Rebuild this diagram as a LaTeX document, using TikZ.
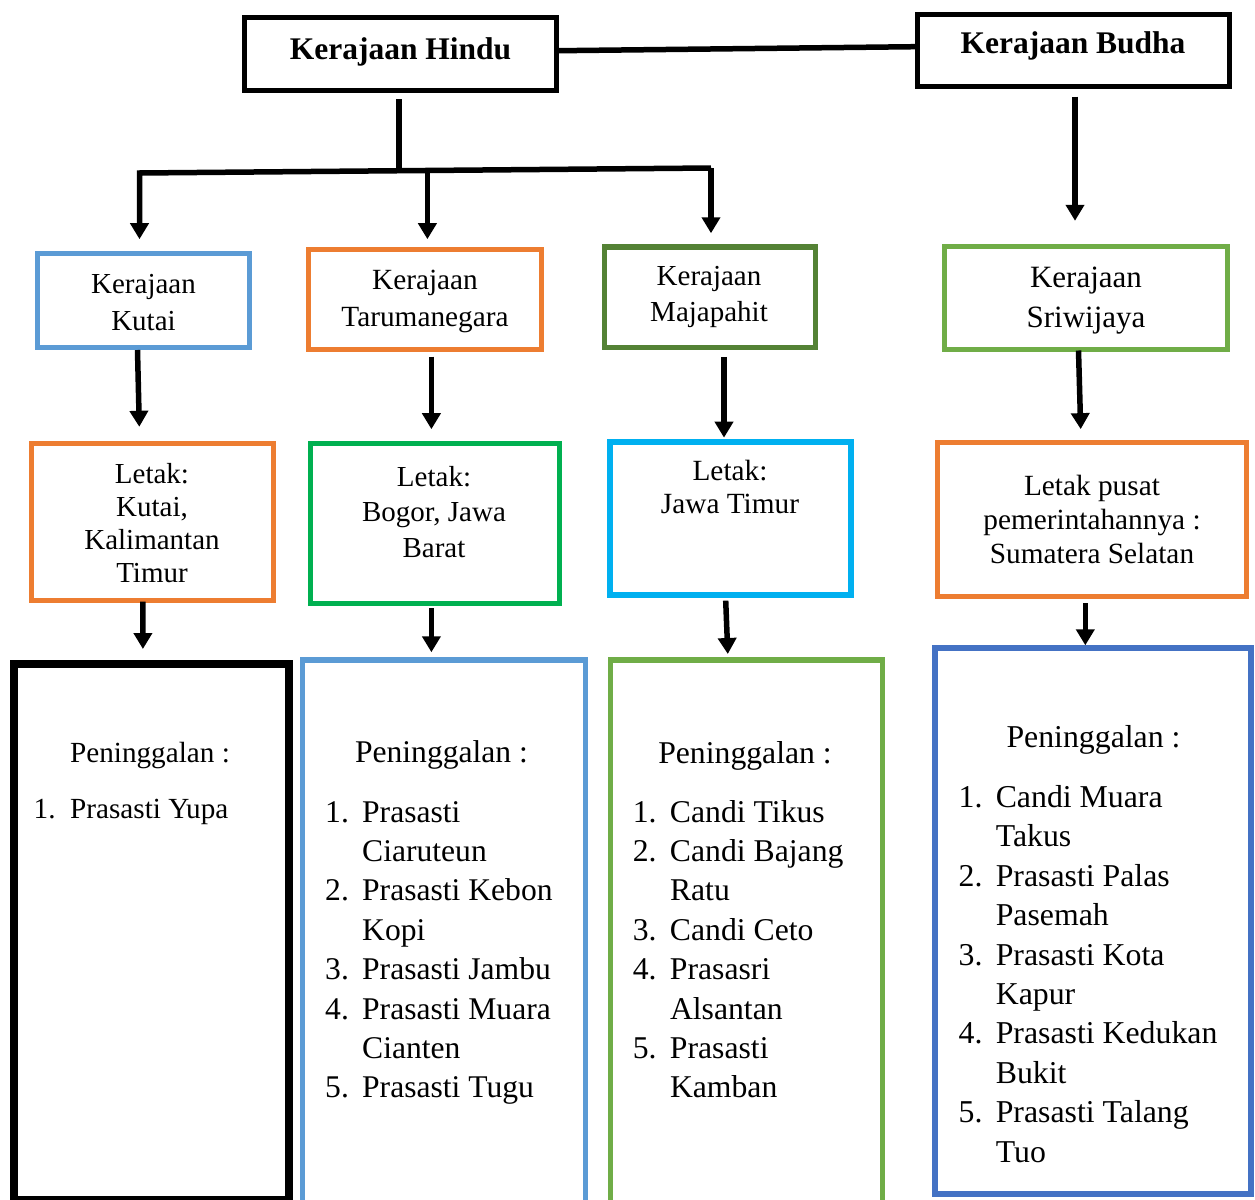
\documentclass[tikz,border=0pt]{standalone}
\usepackage{fontspec}
\setmainfont{Liberation Serif}
\usetikzlibrary{arrows.meta}

\definecolor{cBlue}{HTML}{5B9BD5}
\definecolor{cOrange}{HTML}{ED7D31}
\definecolor{cDkGreen}{HTML}{548235}
\definecolor{cGreen}{HTML}{70AD47}
\definecolor{cBright}{HTML}{00B050}
\definecolor{cCyan}{HTML}{00B0F0}
\definecolor{cNavy}{HTML}{4472C4}

% centred stack of lines, baseline on the first line
\newcommand{\ctrlines}[1]{\begin{tabular}[t]{@{}c@{}}#1\end{tabular}}
% numbered list with a hanging indent
\newcommand{\numlist}[2]{\begin{tabular}[t]{@{}p{#1}@{}l@{}}#2\end{tabular}}
\newcommand{\fs}[2]{\fontsize{#1}{#2}\selectfont}

\begin{document}
\begin{tikzpicture}[x=1pt,y=-1pt,
  box/.style={draw, line width=5pt, inner sep=0pt},
  ln/.style={line width=5.5pt, line join=miter},
  arr/.style={line width=5.5pt, line join=miter, -{Triangle[width=18pt,length=16pt]}},
  txt/.style={inner sep=0pt, anchor=base},
  lst/.style={inner sep=0pt, anchor=base west}]

\useasboundingbox (0,0) rectangle (1255,1199);

% ---- top level
\node[box, minimum width=312.5pt, minimum height=73pt] (hindu) at (400.25,54) {};
\node[box, minimum width=311.5pt, minimum height=72.3pt] (budha) at (1073.25,50.35) {};
\node[txt] (thindu) at (400.5,59.3) {\fs{31.5}{36}\bfseries Kerajaan Hindu};
\node[txt] (tbudha) at (1073,54) {\fs{31.5}{36}\bfseries Kerajaan Budha};

% ---- kingdoms
\node[box, draw=cBlue, minimum width=212.2pt, minimum height=94pt] (k2) at (143.2,300.5) {};
\node[box, draw=cOrange, minimum width=232.2pt, minimum height=100pt] (t2) at (425,299.8) {};
\node[box, draw=cDkGreen, line width=5.5pt, minimum width=211pt, minimum height=100.5pt] (m2) at (709.75,297) {};
\node[box, draw=cGreen, minimum width=283.4pt, minimum height=103pt] (s2) at (1086.2,298) {};

\node[txt] (tk2) at (143.5,293) {\fs{29}{37}\ctrlines{Kerajaan\\Kutai}};
\node[txt] (tt2) at (425,289) {\fs{29.3}{37}\ctrlines{Kerajaan\\Tarumanegara}};
\node[txt] (tm2) at (709,285) {\fs{29}{36}\ctrlines{Kerajaan\\Majapahit}};
\node[txt] (ts2) at (1086,287) {\fs{31}{40}\ctrlines{Kerajaan\\Sriwijaya}};

% ---- locations
\node[box, draw=cOrange, minimum width=241.7pt, minimum height=157.6pt] (k3) at (152.65,522) {};
\node[box, draw=cBright, minimum width=249pt, minimum height=160pt] (t3) at (435,523.5) {};
\node[box, draw=cCyan, line width=6pt, minimum width=240.8pt, minimum height=153.3pt] (m3) at (730.4,518.6) {};
\node[box, draw=cOrange, minimum width=308.8pt, minimum height=154.3pt] (s3) at (1091.7,519.6) {};

\node[txt] (tk3) at (152,483) {\fs{29}{33.3}\ctrlines{Letak:\\Kutai,\\Kalimantan\\Timur}};
\node[txt] (tt3) at (434,486) {\fs{29}{35.5}\ctrlines{Letak:\\Bogor, Jawa\\Barat}};
\node[txt] (tm3) at (730,480) {\fs{29.3}{33}\ctrlines{Letak:\\Jawa Timur}};
\node[txt] (ts3) at (1092,495) {\fs{29.3}{34}\ctrlines{Letak pusat\\pemerintahannya :\\Sumatera Selatan}};

% ---- relics
\node[box, line width=8pt, minimum width=275.4pt, minimum height=536.4pt] (k4) at (151.3,931.8) {};
\node[box, draw=cBlue, line width=5.5pt, minimum width=283pt, minimum height=555.3pt] (t4) at (444,937.4) {};
\node[box, draw=cGreen, line width=5.5pt, minimum width=272.25pt, minimum height=555.3pt] (m4) at (746.4,937.4) {};
\node[box, draw=cNavy, line width=6pt, minimum width=316pt, minimum height=545.7pt] (s4) at (1093,921.15) {};

\node[txt] (hk4) at (150,762) {\fs{29.2}{36}Peninggalan :};
\node[lst] (lk4) at (33.5,818) {\fs{29.2}{39.4}\numlist{36.5pt}{1. & Prasasti Yupa}};

\node[txt] (ht4) at (441.5,762) {\fs{31.6}{36}Peninggalan :};
\node[lst] (lt4) at (325,822) {\fs{31.6}{39.4}\numlist{37pt}{%
  1. & Prasasti\\ & Ciaruteun\\
  2. & Prasasti Kebon\\ & Kopi\\
  3. & Prasasti Jambu\\
  4. & Prasasti Muara\\ & Cianten\\
  5. & Prasasti Tugu}};

\node[txt] (hm4) at (745,763) {\fs{31.7}{36}Peninggalan :};
\node[lst] (lm4) at (632.6,822) {\fs{31.7}{39.4}\numlist{37.2pt}{%
  1. & Candi Tikus\\
  2. & Candi Bajang\\ & Ratu\\
  3. & Candi Ceto\\
  4. & Prasasri\\ & Alsantan\\
  5. & Prasasti\\ & Kamban}};

\node[txt] (hs4) at (1093.5,747) {\fs{31.8}{36}Peninggalan :};
\node[lst] (ls4) at (958.4,807.5) {\fs{31.8}{39.4}\numlist{37.2pt}{%
  1. & Candi Muara\\ & Takus\\
  2. & Prasasti Palas\\ & Pasemah\\
  3. & Prasasti Kota\\ & Kapur\\
  4. & Prasasti Kedukan\\ & Bukit\\
  5. & Prasasti Talang\\ & Tuo}};

% ---- connectors
\draw[ln] ([yshift=3.3pt]hindu.east) -- ([yshift=3.65pt]budha.west);

\coordinate (jl) at (139.5,173);
\coordinate (jr) at (711,168);
\coordinate (jm) at (427.4,171);
\coordinate (jh) at (399,170.7);
\draw[ln] ([xshift=-1.25pt,yshift=-6pt]hindu.south) -- (jh);
\draw[arr] (jr) -- (jl) -- ([xshift=-3.7pt,yshift=11.8pt]k2.north);
\draw[arr] (jm) -- ([xshift=2.4pt,yshift=8.1pt]t2.north);
\draw[arr] (jr) -- ([xshift=1.25pt,yshift=10.75pt]m2.north);
\draw[arr] ([xshift=1.75pt,yshift=-7.5pt]budha.south) -- ([xshift=-11.2pt,yshift=23.2pt]s2.north);

\draw[arr] ([xshift=-5.7pt]k2.south) -- ([xshift=-13.35pt,yshift=13.9pt]k3.north);
\draw[arr] ([xshift=6.4pt,yshift=-4.2pt]t2.south) -- ([xshift=-3.6pt,yshift=11.8pt]t3.north);
\draw[arr] ([xshift=14.25pt,yshift=-6.75pt]m2.south) -- ([xshift=-6.4pt,yshift=1.3pt]m3.north);
\draw[arr] ([xshift=-7.7pt,yshift=1.5pt]s2.south) -- ([xshift=-11pt,yshift=10.8pt]s3.north);

\draw[arr] ([xshift=-9.75pt,yshift=1.8pt]k3.south) -- ([xshift=-8.4pt,yshift=10.6pt]k4.north);
\draw[arr] ([xshift=-3.6pt,yshift=-2.2pt]t3.south) -- ([xshift=-12.6pt,yshift=4.75pt]t4.north);
\draw[arr] ([xshift=-4.7pt,yshift=-2.4pt]m3.south) -- ([xshift=-18.6pt,yshift=3pt]m4.north);
\draw[arr] ([xshift=-6.4pt,yshift=-4.2pt]s3.south) -- ([xshift=-7.7pt]s4.north);
\end{tikzpicture}
\end{document}
